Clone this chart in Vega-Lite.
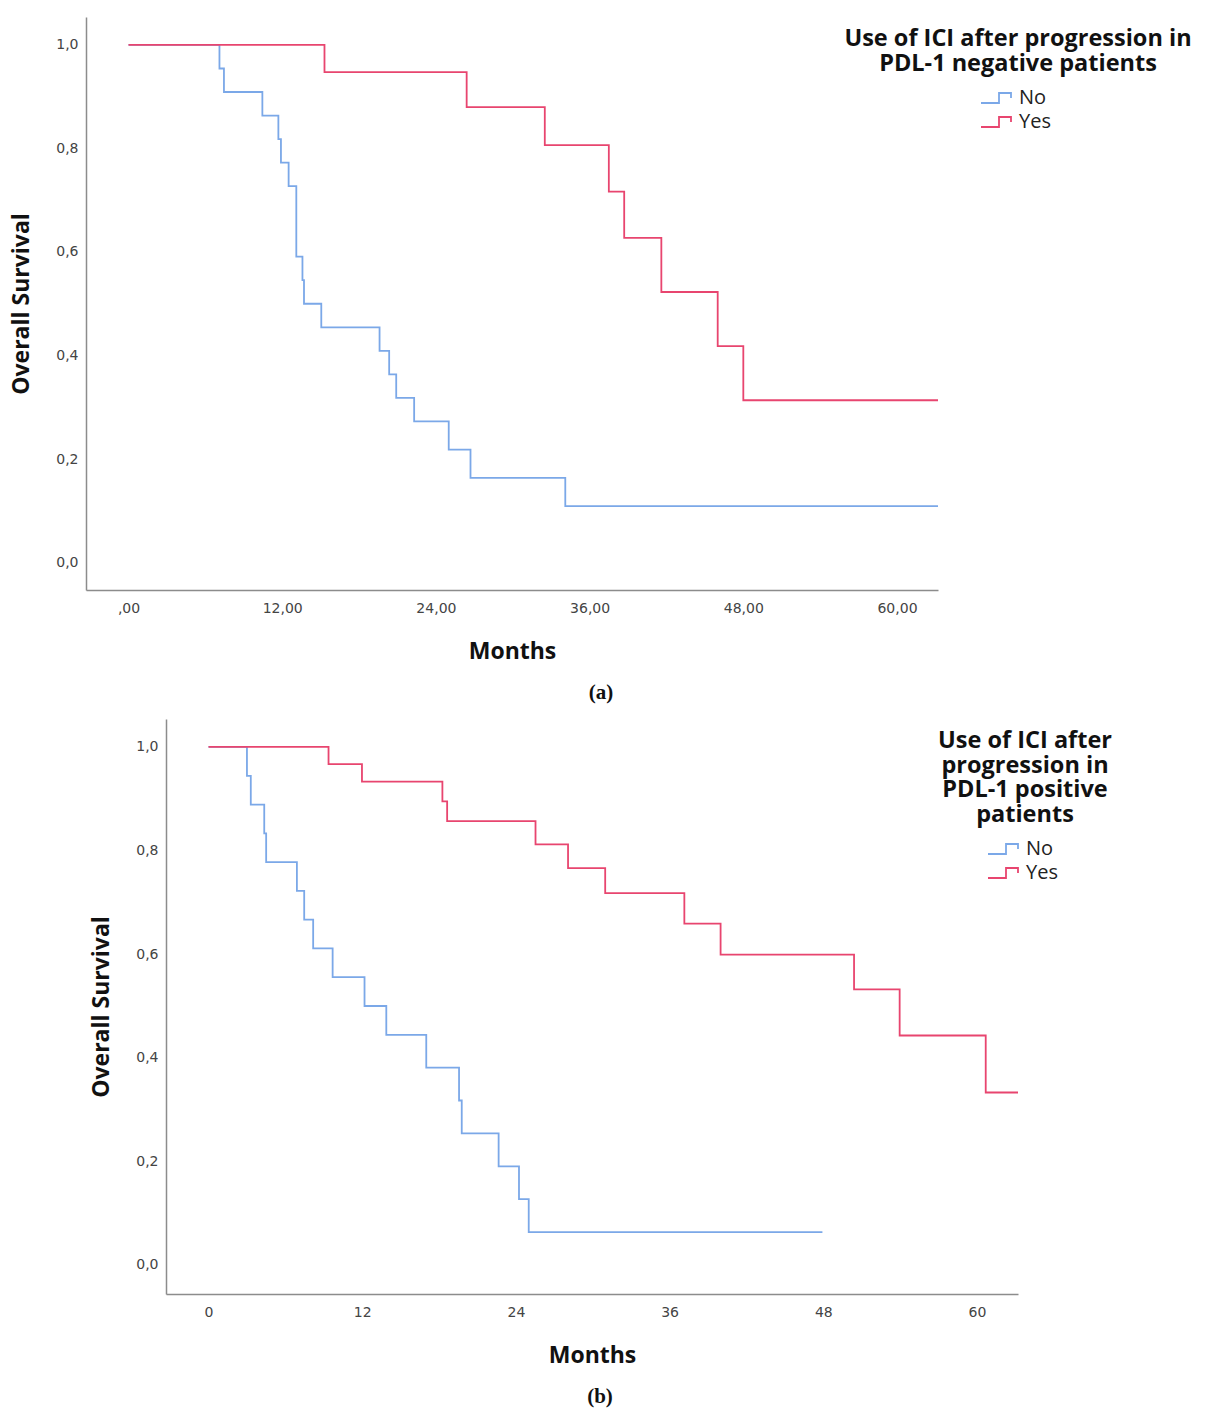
{
  "$schema": "https://vega.github.io/schema/vega-lite/v6.json",
  "background": "white",
  "padding": {"left": 10, "top": 17, "right": 5, "bottom": 5},
  "center": true,
  "spacing": 16,
  "resolve": {"scale": {"color": "independent"}, "legend": {"color": "independent"}},
  "datasets": {
    "negative": [
      {"group": "No", "month": 0, "survival": 1},
      {"group": "No", "month": 7.1, "survival": 0.9545},
      {"group": "No", "month": 7.45, "survival": 0.9091},
      {"group": "No", "month": 10.45, "survival": 0.8636},
      {"group": "No", "month": 11.7, "survival": 0.8182},
      {"group": "No", "month": 11.9, "survival": 0.7727},
      {"group": "No", "month": 12.5, "survival": 0.7273},
      {"group": "No", "month": 13.1, "survival": 0.5909},
      {"group": "No", "month": 13.58, "survival": 0.5455},
      {"group": "No", "month": 13.7, "survival": 0.5},
      {"group": "No", "month": 15.05, "survival": 0.4545},
      {"group": "No", "month": 19.6, "survival": 0.4091},
      {"group": "No", "month": 20.35, "survival": 0.3636},
      {"group": "No", "month": 20.9, "survival": 0.3182},
      {"group": "No", "month": 22.3, "survival": 0.2727},
      {"group": "No", "month": 25.0, "survival": 0.2182},
      {"group": "No", "month": 26.7, "survival": 0.1636},
      {"group": "No", "month": 34.1, "survival": 0.1091},
      {"group": "No", "month": 63.2, "survival": 0.1091},
      {"group": "Yes", "month": 0, "survival": 1},
      {"group": "Yes", "month": 15.3, "survival": 0.9474},
      {"group": "Yes", "month": 26.4, "survival": 0.8797},
      {"group": "Yes", "month": 32.5, "survival": 0.8064},
      {"group": "Yes", "month": 37.5, "survival": 0.7168},
      {"group": "Yes", "month": 38.7, "survival": 0.6272},
      {"group": "Yes", "month": 41.6, "survival": 0.5227},
      {"group": "Yes", "month": 46.0, "survival": 0.4181},
      {"group": "Yes", "month": 48.0, "survival": 0.3136},
      {"group": "Yes", "month": 63.2, "survival": 0.3136}
    ],
    "positive": [
      {"group": "No", "month": 0, "survival": 1},
      {"group": "No", "month": 3.0, "survival": 0.9444},
      {"group": "No", "month": 3.3, "survival": 0.8889},
      {"group": "No", "month": 4.35, "survival": 0.8333},
      {"group": "No", "month": 4.5, "survival": 0.7778},
      {"group": "No", "month": 6.9, "survival": 0.7222},
      {"group": "No", "month": 7.47, "survival": 0.6667},
      {"group": "No", "month": 8.17, "survival": 0.6111},
      {"group": "No", "month": 9.69, "survival": 0.5556},
      {"group": "No", "month": 12.18, "survival": 0.5},
      {"group": "No", "month": 13.88, "survival": 0.4444},
      {"group": "No", "month": 17.0, "survival": 0.381},
      {"group": "No", "month": 19.56, "survival": 0.3175},
      {"group": "No", "month": 19.77, "survival": 0.254},
      {"group": "No", "month": 22.65, "survival": 0.1905},
      {"group": "No", "month": 24.24, "survival": 0.127},
      {"group": "No", "month": 25.0, "survival": 0.0635},
      {"group": "No", "month": 47.93, "survival": 0.0635},
      {"group": "Yes", "month": 0, "survival": 1},
      {"group": "Yes", "month": 9.37, "survival": 0.9667},
      {"group": "Yes", "month": 11.98, "survival": 0.9333},
      {"group": "Yes", "month": 18.26, "survival": 0.895},
      {"group": "Yes", "month": 18.63, "survival": 0.857},
      {"group": "Yes", "month": 25.53, "survival": 0.812},
      {"group": "Yes", "month": 28.07, "survival": 0.766},
      {"group": "Yes", "month": 30.97, "survival": 0.718},
      {"group": "Yes", "month": 37.15, "survival": 0.659},
      {"group": "Yes", "month": 39.98, "survival": 0.599},
      {"group": "Yes", "month": 50.4, "survival": 0.532},
      {"group": "Yes", "month": 53.96, "survival": 0.443},
      {"group": "Yes", "month": 60.68, "survival": 0.333},
      {"group": "Yes", "month": 63.2, "survival": 0.333}
    ]
  },
  "config": {
    "view": {"stroke": null},
    "axis": {
      "domainColor": "#8c8c8c",
      "domainWidth": 1.5,
      "ticks": false,
      "tickSize": 0,
      "grid": false,
      "labelFont": "DejaVu Sans",
      "labelFontSize": 14,
      "labelColor": "#444444",
      "titleFont": "Open Sans",
      "titleFontSize": 23,
      "titleFontWeight": "bold",
      "titleColor": "#111111"
    },
    "legend": {
      "orient": "none",
      "padding": 0,
      "titleFont": "Open Sans",
      "titleFontSize": 23.5,
      "titleFontWeight": "bold",
      "titleColor": "#111111",
      "titleAnchor": "middle",
      "titleAlign": "center",
      "titleLineHeight": 24.5,
      "titlePadding": 12,
      "titleLimit": 0,
      "labelFont": "Open Sans",
      "labelFontSize": 20,
      "labelColor": "#222222",
      "labelOffset": 12,
      "rowPadding": 3,
      "symbolType": "M-1.5,0.5H0.3V-0.5H1.5V0",
      "symbolSize": 400,
      "symbolStrokeWidth": 1.8,
      "symbolFillColor": "transparent"
    },
    "title": {
      "font": "Liberation Serif",
      "fontSize": 21,
      "fontWeight": "bold",
      "color": "#111111",
      "orient": "bottom",
      "anchor": "middle"
    }
  },
  "vconcat": [
    {
      "width": 852,
      "height": 573,
      "title": {"text": "(a)", "dx": 89, "offset": 19},
      "data": {"name": "negative"},
      "mark": {"type": "line", "interpolate": "step-after", "strokeWidth": 1.8},
      "encoding": {
        "x": {
          "field": "month", "type": "quantitative",
          "scale": {"domain": [-3.32, 63.2], "nice": false, "zero": false},
          "axis": {
            "values": [0, 12, 24, 36, 48, 60],
            "labelExpr": "datum.value === 0 ? ',00' : replace(format(datum.value, '.2f'), '.', ',')",
            "title": "Months", "labelPadding": 11, "titlePadding": 25
          }
        },
        "y": {
          "field": "survival", "type": "quantitative",
          "scale": {"domain": [-0.053, 1.054], "nice": false, "zero": false},
          "axis": {
            "values": [0, 0.2, 0.4, 0.6, 0.8, 1],
            "labelExpr": "replace(format(datum.value, '.1f'), '.', ',')",
            "title": "Overall Survival", "labelPadding": 8, "titlePadding": 22
          }
        },
        "color": {
          "field": "group", "type": "nominal",
          "scale": {"domain": ["No", "Yes"], "range": ["#7ba8e8", "#e8456f"]},
          "legend": {
            "title": ["Use of ICI after progression in", "PDL-1 negative patients"],
            "legendX": 758, "legendY": 10
          }
        }
      }
    },
    {
      "width": 852,
      "height": 575,
      "title": {"text": "(b)", "dx": 8, "offset": 19},
      "data": {"name": "positive"},
      "mark": {"type": "line", "interpolate": "step-after", "strokeWidth": 1.8},
      "encoding": {
        "x": {
          "field": "month", "type": "quantitative",
          "scale": {"domain": [-3.32, 63.2], "nice": false, "zero": false},
          "axis": {
            "values": [0, 12, 24, 36, 48, 60],
            "title": "Months", "labelPadding": 11, "titlePadding": 25
          }
        },
        "y": {
          "field": "survival", "type": "quantitative",
          "scale": {"domain": [-0.056, 1.054], "nice": false, "zero": false},
          "axis": {
            "values": [0, 0.2, 0.4, 0.6, 0.8, 1],
            "labelExpr": "replace(format(datum.value, '.1f'), '.', ',')",
            "title": "Overall Survival", "labelPadding": 8, "titlePadding": 22
          }
        },
        "color": {
          "field": "group", "type": "nominal",
          "scale": {"domain": ["No", "Yes"], "range": ["#7ba8e8", "#e8456f"]},
          "legend": {
            "title": ["Use of ICI after", "progression in", "PDL-1 positive", "patients"],
            "legendX": 772, "legendY": 10
          }
        }
      }
    }
  ]
}
